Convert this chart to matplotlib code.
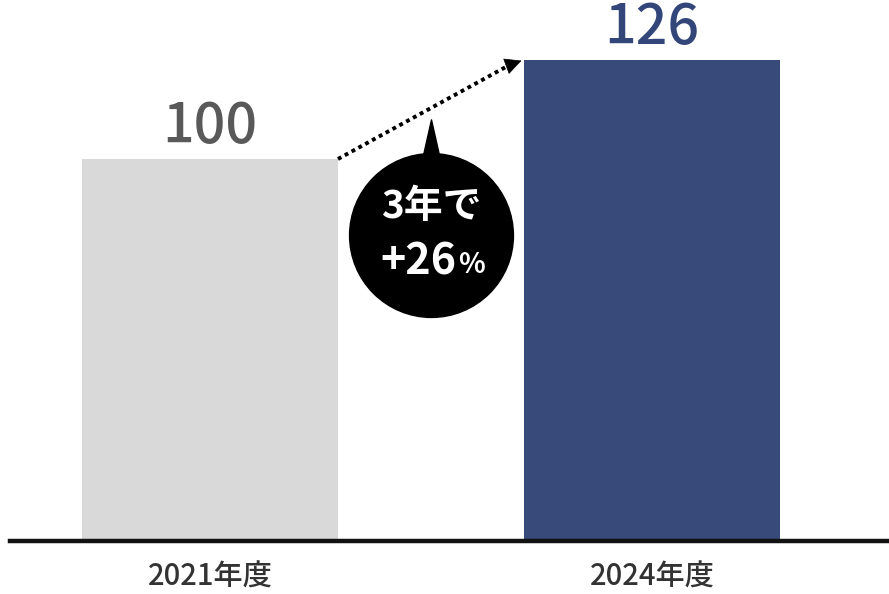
import numpy as np
import matplotlib
matplotlib.use("Agg")
import matplotlib.pyplot as plt
import matplotlib.transforms as mtransforms
from matplotlib.path import Path

plt.rcParams['font.family'] = ['Noto Sans CJK JP', 'DejaVu Sans']

# data
categories = ["2021年度", "2024年度"]
values = [100, 126]
bar_colors = ["#d9d9d9", "#374a7a"]
label_colors = ["#595959", "#33467a"]
growth_line1 = "3年で"
growth_pct = "+26"

fig = plt.figure(figsize=(8.89, 5.94), dpi=100)
ax = fig.add_axes([0, 53 / 594, 1, 541 / 594])

x = np.arange(len(categories))
width = 0.579
bars = ax.bar(x, values, width=width, color=bar_colors, zorder=2)

ax.set_xlim(-0.475, 1.536)
ax.set_ylim(0, 541 / 3.82)

# value labels above bars
for xi, v, c in zip(x, values, label_colors):
    ax.annotate(f"{v}", (xi, v), xytext=(0, 3), textcoords="offset points",
                ha="center", va="bottom", fontsize=40, color=c, fontweight="medium")

# baseline (not clipped, so its lower half shows below the axes)
ax.axhline(0, xmin=10 / 889, xmax=1, color="#111111", lw=3.2, zorder=3, clip_on=False)

ax.set_xticks(x)
ax.set_xticklabels(categories, fontsize=21, color="#333333", fontweight="medium")
ax.tick_params(axis="x", length=0, pad=15)
ax.set_yticks([])
for s in ax.spines.values():
    s.set_visible(False)

# dotted arrow from top of first bar to top of second bar
x0 = x[0] + width / 2
x1 = x[1] - width / 2
ax.plot([x0, x1 - 0.03], [values[0], values[1] - 1.2], ls=(0, (1, 1)), color="black", lw=2.8, zorder=4)
ax.annotate("", xy=(x1, values[1]), xytext=(x1 - 0.035, values[1] - 1.5),
            arrowprops=dict(arrowstyle="-|>,head_length=1.1,head_width=0.55", color="black", lw=0.5),
            zorder=5)

# speech bubble
mid = (x[0] + x[1]) / 2
by = 80
ax.plot([mid], [by], marker="o", markersize=118, color="black", zorder=4)
spike = Path([(0, 1), (-0.45, -1), (0.45, -1), (0, 1)],
             [Path.MOVETO, Path.LINETO, Path.LINETO, Path.CLOSEPOLY])
ax.plot([mid], [by], marker=spike, markersize=34, color="black", zorder=4,
        transform=ax.transData + mtransforms.ScaledTranslation(0, 0.92, fig.dpi_scale_trans))

ax.annotate(growth_line1, (mid, by), xytext=(0, 21), textcoords="offset points",
            ha="center", va="center", fontsize=28, color="white", fontweight="bold", zorder=6)
ax.annotate(growth_pct, (mid, by), xytext=(-9, -19), textcoords="offset points",
            ha="center", va="center", fontsize=31, color="white", fontweight="bold", zorder=6)
ax.annotate("%", (mid, by), xytext=(29, -21), textcoords="offset points",
            ha="center", va="center", fontsize=20, color="white", fontweight="bold", zorder=6)

fig.savefig("out.png", dpi=100)
